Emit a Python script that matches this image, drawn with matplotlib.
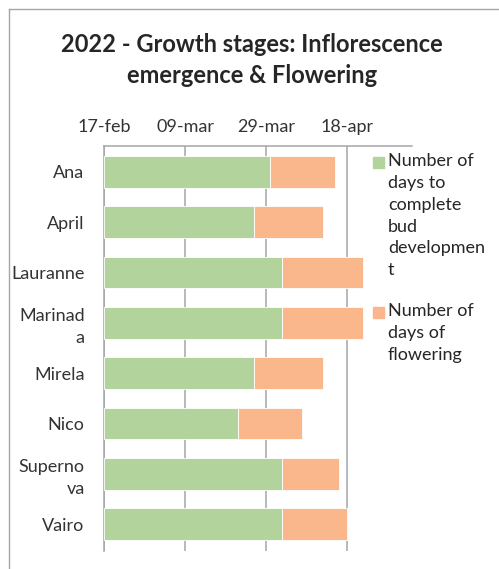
import matplotlib
matplotlib.use("Agg")
import matplotlib.pyplot as plt
import matplotlib.patches as patches

plt.rcParams["font.family"] = ["Lato", "DejaVu Sans"]

# data (days since 17-feb-2022)
varieties = ["Ana", "April", "Lauranne", "Marinad\na", "Mirela", "Nico", "Superno\nva", "Vairo"]
bud_days = [41, 37, 44, 44, 37, 33, 44, 44]
flower_days = [16, 17, 20, 20, 17, 16, 14, 16]
tick_days = [0, 20, 40, 60]
tick_labels = ["17-feb", "09-mar", "29-mar", "18-apr"]
series_names = ["Number of\ndays to\ncomplete\nbud\ndevelopmen\nt", "Number of\ndays of\nflowering"]

green = "#B2D49C"
orange = "#F9B78B"
grid_col = "#A6A6A6"
text_col = "#333333"

fig = plt.figure(figsize=(4.99, 5.69), dpi=100)
ax = fig.add_axes([0.2084, 0.0316, 0.617, 0.711])

y = list(range(len(varieties)))
ax.barh(y, bud_days, height=0.63, color=green, edgecolor="white", linewidth=0.6, zorder=3)
ax.barh(y, flower_days, left=bud_days, height=0.63, color=orange, edgecolor="white", linewidth=0.6, zorder=3)

ax.set_xlim(0, 76)
ax.set_ylim(len(varieties) - 0.5 + 0.03, -0.5)
ax.set_yticks(y)
ax.set_yticklabels(varieties, fontsize=13, color=text_col, linespacing=1.45)
ax.set_xticks(tick_days)
ax.set_xticklabels(tick_labels, fontsize=13, color=text_col)
ax.xaxis.tick_top()
ax.tick_params(axis="x", length=0, pad=8)
ax.tick_params(axis="y", length=0, pad=14)
ax.grid(axis="x", color=grid_col, linewidth=1.1, zorder=0)
for s in ["right", "bottom"]:
    ax.spines[s].set_visible(False)
for s in ["top", "left"]:
    ax.spines[s].set_color(grid_col)
    ax.spines[s].set_linewidth(1.1)

# manual legend
fig.patches.append(patches.Rectangle((373 / 499, 1 - 168 / 569), 11 / 499, 11 / 569,
                                     transform=fig.transFigure, color=green))
fig.text(388 / 499, 1 - 153 / 569, series_names[0], fontsize=13, color="#262626",
         va="top", ha="left", linespacing=1.45)
fig.patches.append(patches.Rectangle((373 / 499, 1 - 318 / 569), 11 / 499, 11 / 569,
                                     transform=fig.transFigure, color=orange))
fig.text(388 / 499, 1 - 303 / 569, series_names[1], fontsize=13, color="#262626",
         va="top", ha="left", linespacing=1.45)

fig.text(0.505, 1 - 60 / 569, "2022 - Growth stages: Inflorescence\nemergence & Flowering",
         ha="center", va="center", fontsize=17, fontweight="bold", color="#262626",
         linespacing=1.45)

# chart area border (left and top visible)
fig.add_artist(plt.Line2D([9 / 499, 9 / 499], [0, 1 - 9 / 569], transform=fig.transFigure,
                          color="#A6A6A6", linewidth=1))
fig.add_artist(plt.Line2D([9 / 499, 1], [1 - 9 / 569, 1 - 9 / 569], transform=fig.transFigure,
                          color="#A6A6A6", linewidth=1))

fig.savefig("out.png", dpi=100, facecolor="white")
